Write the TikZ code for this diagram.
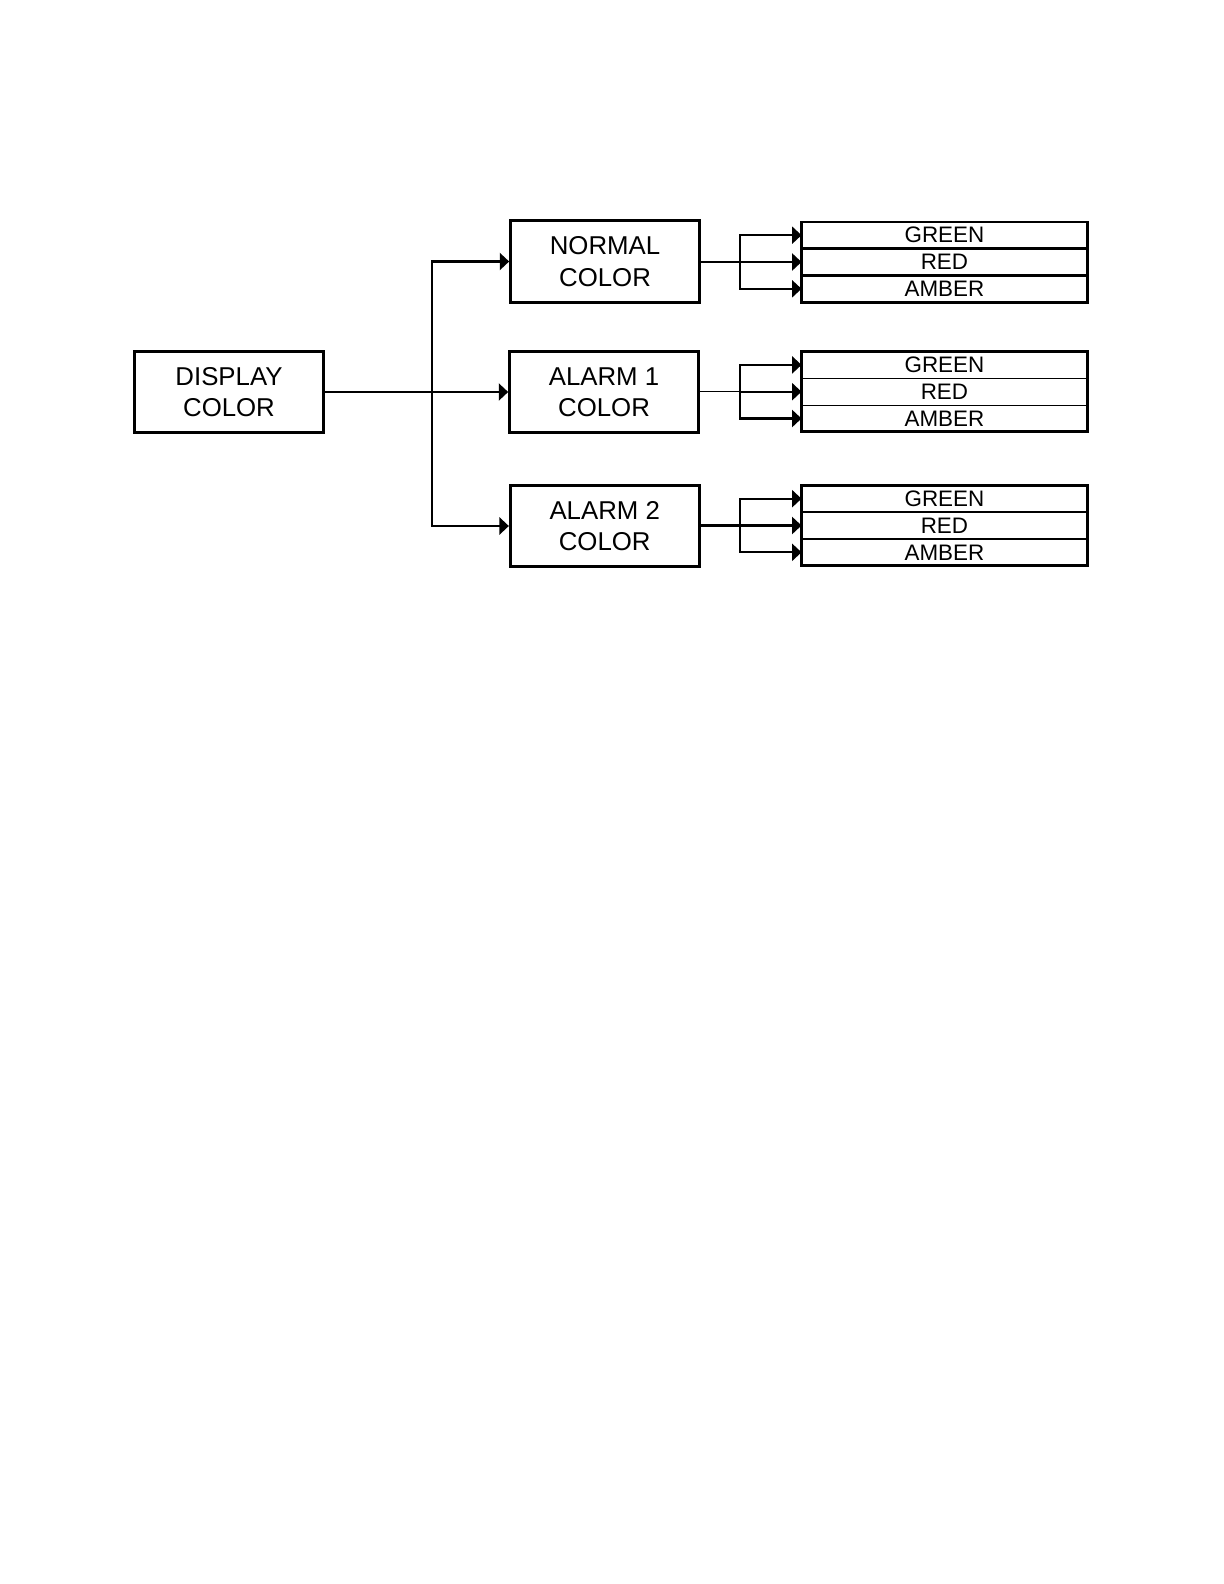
\documentclass[tikz,border=0pt]{standalone}
\usepackage{fontspec}
\setmainfont{Liberation Sans}
\usetikzlibrary{arrows.meta}
\begin{document}
\begin{tikzpicture}[x=0.5pt,y=-0.5pt,
    box/.style={draw,line width=1.35pt,minimum width=94.5pt,minimum height=40.75pt,
      inner sep=0pt,align=center,font=\fontsize{12.9}{15.7}\selectfont},
    row/.style={draw,minimum width=142.9pt,minimum height=13.4pt,
      inner sep=0pt,outer sep=0pt,font=\fontsize{11.2}{11.2}\selectfont},
    link/.style={line width=1.1pt,-{Triangle[length=4.7pt,width=8.5pt]}}]
    \useasboundingbox (0,0) rectangle (1224,1584);
    %% main boxes
    \node[box] (display) at (229,392) {DISPLAY\\COLOR};
    \node[box] (normal) at (605,261.5) {NORMAL\\COLOR};
    \node[box] (alarmA) at (604,392) {ALARM 1~\\COLOR};
    \node[box] (alarmB) at (604.7,526) {ALARM 2~\\COLOR};
    %% display to the three modes
    \coordinate (split) at (432,392);
    \draw[link,line width=1.2pt] (display.east) -- (alarmA.west);
    \draw[link,line width=1.2pt] (split) |- (normal.west);
    \draw[link,line width=1.2pt] (split) |- (alarmB.west);
    %% colour lists and their forks
    \foreach \grp/\y/\lw/\rw/\fw in {normal/262/1.3pt/1.3pt/1.1pt,alarmA/391.7/0.5pt/0.6pt/1.5pt,alarmB/525.5/1.3pt/1.2pt/1.3pt} {
        \node[row,line width=\rw] (\grp green) at (944.4,\y-26.8) {GREEN};
        \node[row,line width=\rw] (\grp red) at (944.4,\y) {RED};
        \node[row,line width=\rw] (\grp amber) at (944.4,\y+26.8) {AMBER};
        \draw[line width=\fw] (\grp green.north west) rectangle (\grp amber.south east);
        \coordinate (\grp fork) at (740,\y);
        \draw[line width=\lw] (\grp.east |- \grp fork) -- (\grp fork);
        \draw[link] (\grp fork) |- (\grp green.west);
        \draw[link] (\grp fork) -- (\grp red.west);
        \draw[link] (\grp fork) |- (\grp amber.west);
    }
\end{tikzpicture}
\end{document}
